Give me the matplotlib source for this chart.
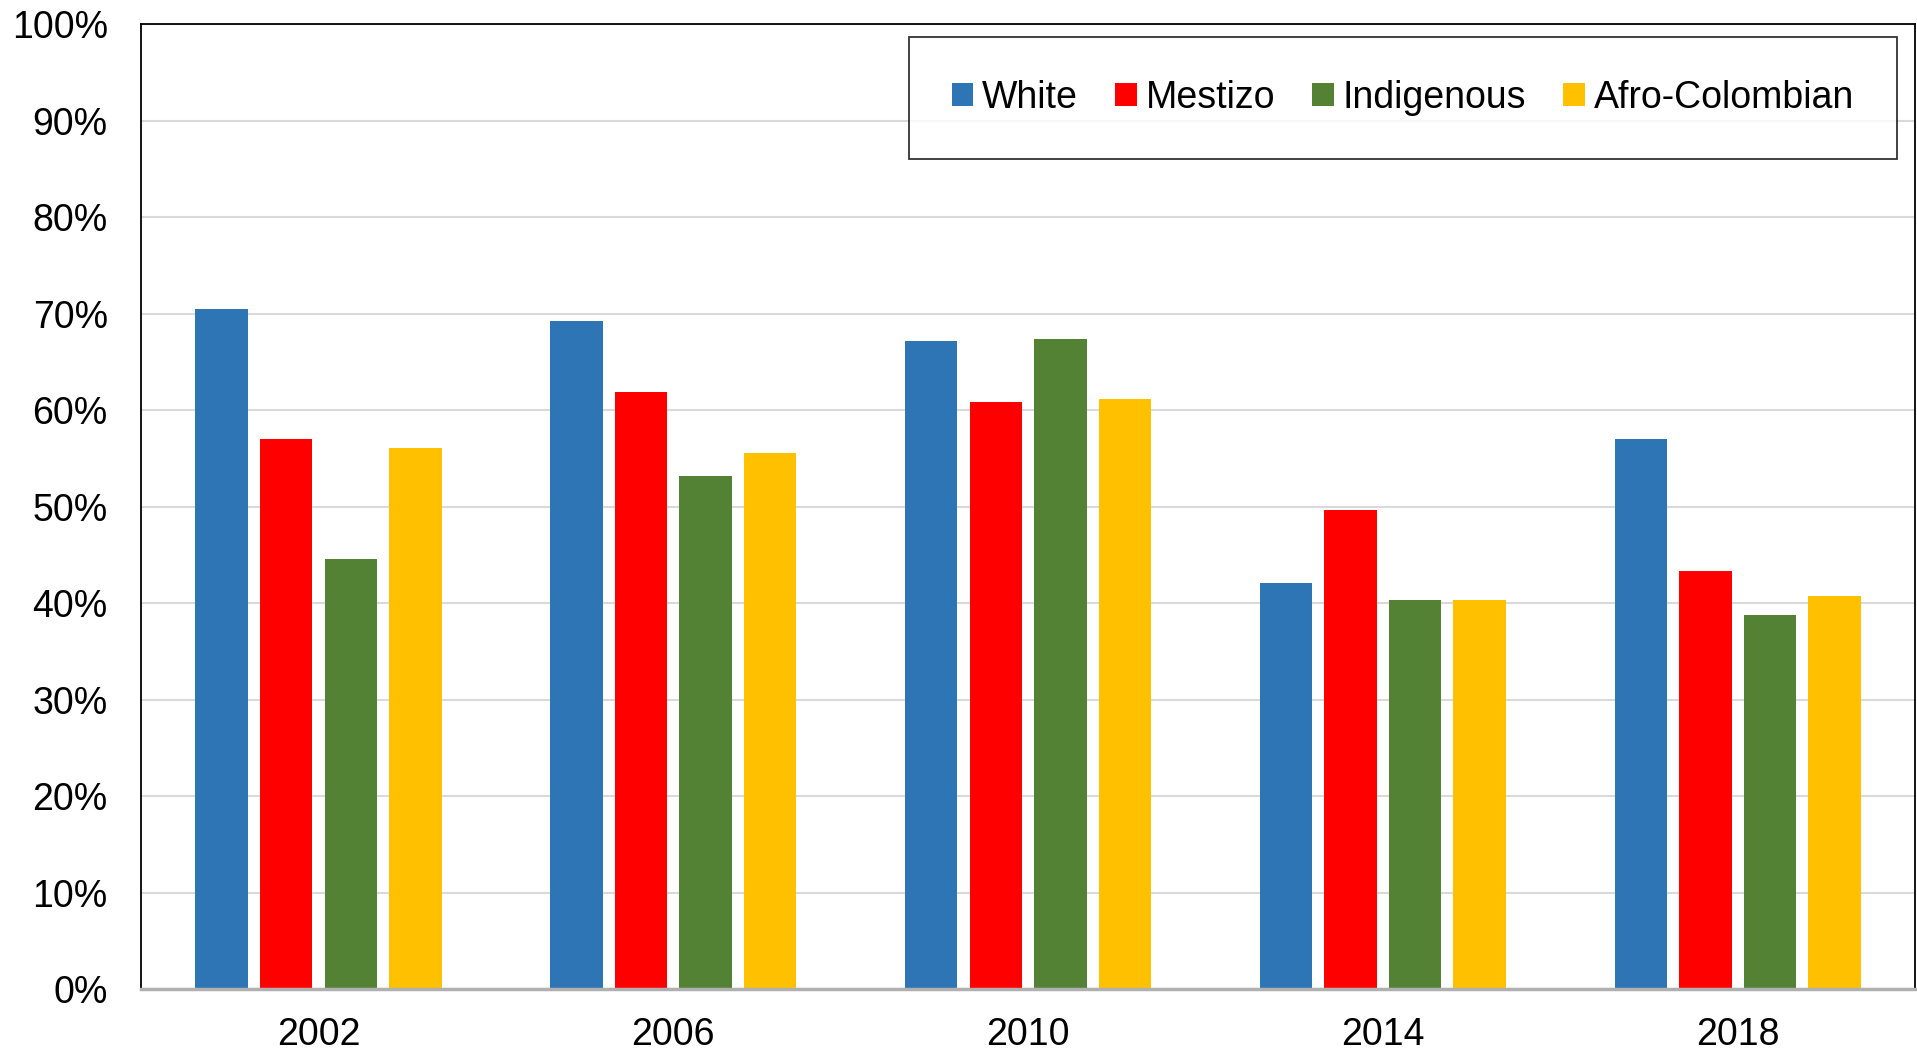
import matplotlib.pyplot as plt
import numpy as np

plt.rcParams['font.family'] = ['Liberation Sans', 'DejaVu Sans']

years = ['2002', '2006', '2010', '2014', '2018']
white = [70.5, 69.2, 67.2, 42.1, 57.0]
mestizo = [57.0, 61.9, 60.8, 49.6, 43.3]
indigenous = [44.6, 53.2, 67.4, 40.3, 38.8]
afro = [56.1, 55.6, 61.1, 40.3, 40.7]

series = [('White', white, '#2E75B6'),
          ('Mestizo', mestizo, '#FF0000'),
          ('Indigenous', indigenous, '#548235'),
          ('Afro-Colombian', afro, '#FFC000')]

fig = plt.figure(figsize=(19.17, 10.51), dpi=100, facecolor='white')
ax = fig.add_axes([0.0736, 0.059, 0.9254, 0.918])

x = np.arange(len(years))
pitch = 0.182
width = 0.148
for i, (name, vals, col) in enumerate(series):
    ax.bar(x + (i - 1.5) * pitch, vals, width, color=col, label=name, zorder=3)

ax.set_xlim(-0.5, 4.5)
ax.set_ylim(0, 100)
ax.set_yticks(np.arange(0, 101, 10))
ax.set_yticklabels(['%d%%' % v for v in range(0, 101, 10)])
ax.set_xticks(x)
ax.set_xticklabels(years)

ax.grid(True, axis='y', color='#d9d9d9', linewidth=1.5, zorder=0)
ax.set_axisbelow(True)

for s in ['left', 'top', 'right']:
    ax.spines[s].set_color('black')
    ax.spines[s].set_linewidth(1.3)
ax.spines['bottom'].set_color('#b0b0b0')
ax.spines['bottom'].set_linewidth(2.5)
ax.spines['bottom'].set_zorder(4)

ax.tick_params(axis='both', length=0, labelsize=27, colors='black')
ax.tick_params(axis='y', pad=24)
ax.tick_params(axis='x', pad=20)

leg = ax.legend(loc='upper right', bbox_to_anchor=(0.9895, 0.965), bbox_transform=fig.transFigure,
                ncol=4, fontsize=27, frameon=True, fancybox=False, edgecolor='black',
                handlelength=0.57, handleheight=0.57, handletextpad=0.23, columnspacing=1.0,
                borderpad=1.15, borderaxespad=0)
leg.get_frame().set_linewidth(1.3)

fig.savefig('out.png', dpi=100, facecolor='white')
